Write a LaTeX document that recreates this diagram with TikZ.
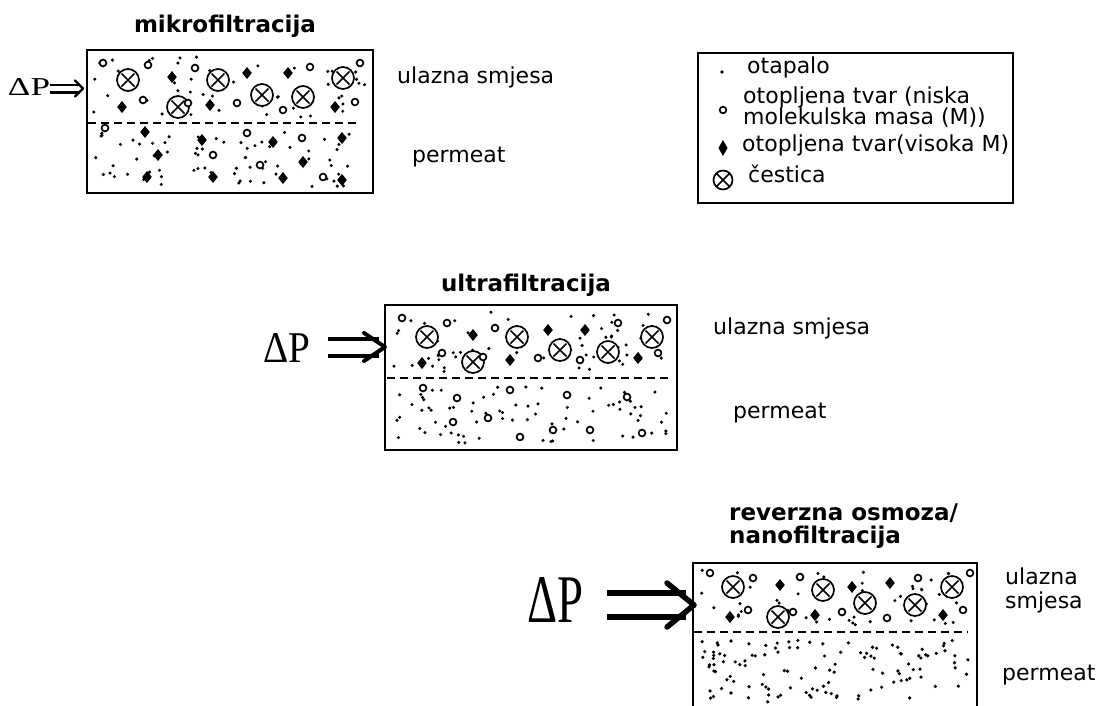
\documentclass[tikz,border=0pt]{standalone}
\usepackage{fontspec}
\usepackage{graphicx}
\newfontfamily\lab{DejaVu Sans}
\newfontfamily\dpf{Liberation Serif}
\tikzset{
  lbl/.style={font=\lab\fontsize{22}{26}\selectfont, inner sep=0pt, anchor=mid west},
  ttl/.style={font=\lab\bfseries\fontsize{23}{27}\selectfont, inner sep=0pt},
  mbox/.style={draw, line width=2.4pt, inner sep=0pt},
  legbox/.style={draw, line width=2.2pt, inner sep=0pt},
  memb/.style={line width=2.2pt, dash pattern=on 8pt off 5pt},
  sym/.style={line width=1.7pt},
  dpnode/.style={inner sep=0pt, font=\dpf},
}
\newcommand\dblarrow[7]{%
  \draw[line width=#4] ([yshift=#3]#1) -- ([xshift=-#7, yshift=#3]#2)
                       ([yshift=-#3]#1) -- ([xshift=-#7, yshift=-#3]#2);
  \draw[line width=#4, line cap=round, line join=round]
     ([xshift=-#5, yshift=#6]#2) -- (#2) -- ([xshift=-#5, yshift=-#6]#2);
}
\begin{document}
\begin{tikzpicture}[x=1pt,y=-1pt]
\useasboundingbox (0,0) rectangle (1107,705);
\clip (0,0) rectangle (1107,705);
\fill[white] (0,0) rectangle (1107,705);

% ---------------- boxes ----------------
\node[mbox, minimum width=286pt, minimum height=143pt] (b1) at (230,121.5) {};
\node[mbox, minimum width=292pt, minimum height=145pt] (b2) at (531,377.5) {};
\node[mbox, minimum width=284pt, minimum height=160pt] (b3) at (835,643) {};

\draw[memb] (88,123) -- (360,123);
\draw[memb] (387,378) -- (672,378);
\draw[memb] (694,632) -- (968,632);

% ---------------- titles ----------------
\node[ttl] (t1) at (225,26) {mikrofiltracija};
\node[ttl] (t2) at (526,285) {ultrafiltracija};
\node[ttl, anchor=mid west] (t3a) at (729,518) {reverzna osmoza/};
\node[ttl, anchor=mid west] (t3b) at (729,541) {nanofiltracija};

% ---------------- labels ----------------
\node[lbl] (u1) at (397,81) {ulazna smjesa};
\node[lbl] (p1) at (412,160) {permeat};
\node[lbl] (u2) at (713,332) {ulazna smjesa};
\node[lbl] (p2) at (733,416) {permeat};
\node[lbl] (u3a) at (1005,582) {ulazna};
\node[lbl] (u3b) at (1005,606) {smjesa};
\node[lbl] (p3) at (1002,678) {permeat};

% ---------------- Delta P and arrows ----------------
\node[dpnode] (dp1) at (29,87) {\resizebox{42pt}{17pt}{ΔP}};
\node[dpnode] (dp2) at (286.5,347.5) {\resizebox{47pt}{29pt}{ΔP}};
\node[dpnode] (dp3) at (555,600) {\resizebox{56pt}{45pt}{ΔP}};

\coordinate (s1) at (50,88.5);  \coordinate (e1) at (83,88.5);
\coordinate (s2) at (328,347);  \coordinate (e2) at (385,347);
\coordinate (s3) at (607,605);  \coordinate (e3) at (694,605);
\dblarrow{s1}{e1}{3.8pt}{2.4pt}{8pt}{8pt}{3pt}
\dblarrow{s2}{e2}{8.5pt}{4pt}{21pt}{14pt}{6pt}
\dblarrow{s3}{e3}{12pt}{5.5pt}{27pt}{22pt}{8pt}

% ---------------- legend ----------------
\node[legbox, minimum width=315pt, minimum height=150pt] (leg) at (855.5,128) {};
\fill (722,72) circle (1.8);
\draw[sym] (723,110) circle (3.3);
\fill (723,140) -- (727.5,148) -- (723,156) -- (718.5,148) -- cycle;
\draw[sym] (723,180) circle (9.5) (723,180) ++(-6,-6) -- ++(12,12) ++(0,-12) -- ++(-12,12);
\node[lbl] (l1) at (747,71) {otapalo};
\node[lbl] (l2) at (743,101) {otopljena tvar (niska};
\node[lbl] (l3) at (743,122) {molekulska masa (M))};
\node[lbl] (l4) at (742,149) {otopljena tvar(visoka M)};
\node[lbl] (l5) at (748,180) {čestica};

% ---------------- solvent dots ----------------
\pgfmathsetseed{4711}
\foreach \i in {1,...,55} {\fill ({93+272*rnd},{57+60*rnd}) circle (1.7);}
\foreach \i in {1,...,70} {\fill ({93+272*rnd},{130+57*rnd}) circle (1.7);}
\foreach \i in {1,...,60} {\fill ({392+278*rnd},{312+60*rnd}) circle (1.7);}
\foreach \i in {1,...,75} {\fill ({392+278*rnd},{386+58*rnd}) circle (1.7);}
\foreach \i in {1,...,55} {\fill ({700+268*rnd},{570+56*rnd}) circle (1.7);}
\foreach \i in {1,...,120} {\fill ({700+268*rnd},{640+62*rnd}) circle (1.8);}

% ---------------- particles (crossed circles) ----------------
\foreach \x/\y in {128/80,218/80,178/107,262/95,303/97,343/78,
                   427/337,517/337,473/362,560/350,608/352,652/337,
                   733/587,823/590,865/603,915/605,952/587,778/617}
  {\draw[sym, fill=white] (\x,\y) circle (11);
   \draw[sym] (\x,\y) ++(-6.5,-6.5) -- ++(13,13) ++(0,-13) -- ++(-13,13);}

% ---------------- high M solute (diamonds) ----------------
\foreach \x/\y in {172/77,247/73,288/73,122/107,210/105,335/107,145/132,202/140,
                   273/142,342/138,158/155,303/162,147/177,213/177,283/178,342/180,
                   473/335,548/330,585/330,422/363,510/360,638/358,
                   780/585,852/587,890/583,730/617,815/615,943/615}
  {\fill (\x,\y) ++(0,-6) -- ++(4.8,6) -- ++(-4.8,6) -- ++(-4.8,-6) -- cycle;}

% ---------------- low M solute (small circles) ----------------
\foreach \x/\y in {103/63,148/65,195/68,360/63,143/100,188/103,237/103,283/110,
                   310/67,355/102,105/128,247/133,302/138,213/155,260/165,323/177,
                   402/318,447/323,495/328,618/323,667/320,442/353,483/357,538/358,
                   580/360,658/353,423/388,510/390,567/395,627/397,457/398,453/422,
                   488/418,520/437,553/430,590/430,642/433,
                   710/573,753/578,800/577,918/578,970/573,748/610,793/612,842/612,
                   887/618,963/610}
  {\draw[sym, fill=white] (\x,\y) circle (3.4);}
\end{tikzpicture}
\end{document}
